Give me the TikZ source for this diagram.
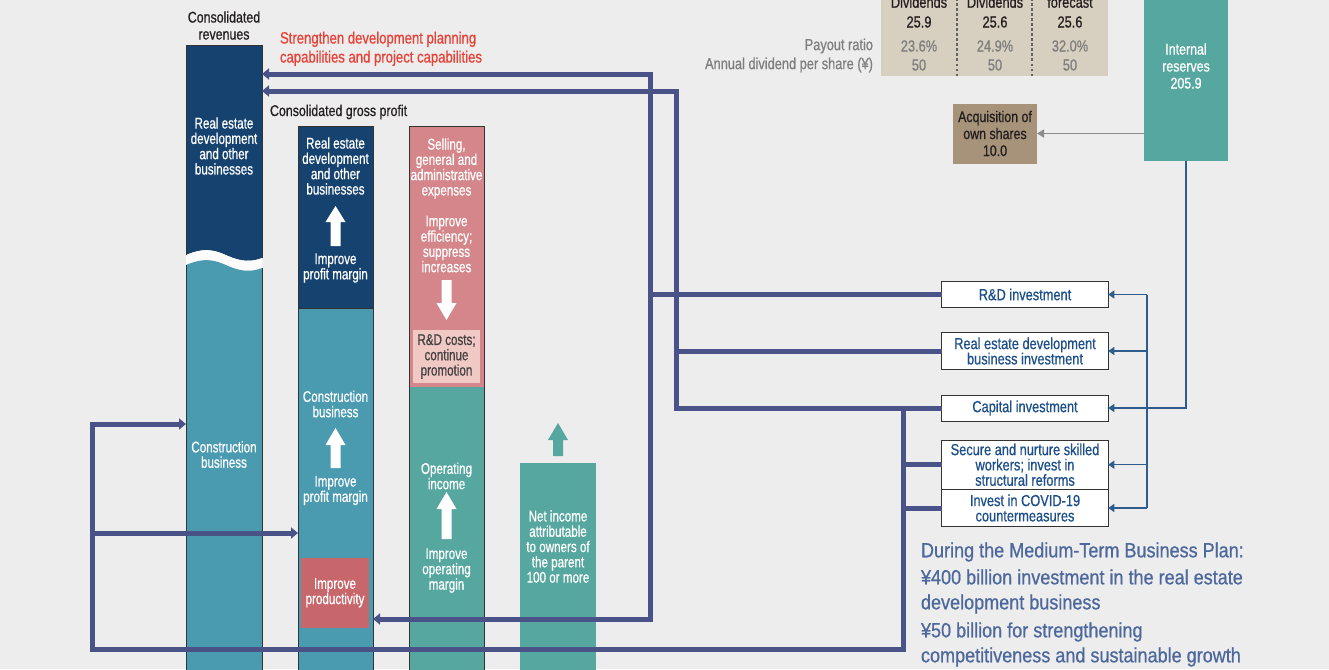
\documentclass[tikz,border=0pt]{standalone}
\usepackage{fontspec}
\setmainfont{Liberation Sans}[FakeStretch=0.8, FakeBold=0.7]
\newfontfamily\widefont{Liberation Sans}[FakeStretch=0.88, FakeBold=0.7]
\newfontfamily\colfont{Liberation Sans}[FakeStretch=0.75, FakeBold=0.7]
\usetikzlibrary{arrows.meta}
\definecolor{bgc}{HTML}{ECEDEC}
\definecolor{darkblue}{HTML}{15426F}
\definecolor{conblue}{HTML}{4A9AB0}
\definecolor{pinkc}{HTML}{D5868A}
\definecolor{lightpink}{HTML}{F1C9C4}
\definecolor{redbox}{HTML}{C8676B}
\definecolor{tealc}{HTML}{56A79F}
\definecolor{flowc}{HTML}{4A5387}
\definecolor{thinc}{HTML}{2C5D8E}
\definecolor{beige}{HTML}{D7CFC0}
\definecolor{brownc}{HTML}{A69379}
\definecolor{boxtext}{HTML}{1D4F8A}
\definecolor{bottomtext}{HTML}{4D689C}
\definecolor{redtext}{HTML}{E94138}
\definecolor{graytext}{HTML}{7F7F7F}
\definecolor{darktext}{HTML}{231F20}
\definecolor{edgec}{HTML}{333333}
\newcommand\whiteup[4]{\fill[white] (#1-5,#4) -- (#1-5,#3) -- (#1-10,#3) -- (#1,#2) -- (#1+10,#3) -- (#1+5,#3) -- (#1+5,#4) -- cycle;}
\newcommand\whitedown[4]{\fill[white] (#1-5,#2) -- (#1-5,#3) -- (#1-10,#3) -- (#1,#4) -- (#1+10,#3) -- (#1+5,#3) -- (#1+5,#2) -- cycle;}
\begin{document}
\begin{tikzpicture}[x=1pt,y=-1pt,
  every node/.style={inner sep=0pt, outer sep=0pt},
  ctext/.style={font=\colfont\fontsize{15.5}{15.3}\selectfont, align=center, text=white},
  ttext/.style={font=\fontsize{15.5}{17}\selectfont, align=center},
  edge/.style={draw=edgec, line width=1pt},
  flow/.style={draw=flowc, line width=5pt, line join=miter},
  ftip/.style={-{Triangle[width=11pt,length=7pt]}},
  fboth/.style={{Triangle[width=11pt,length=7pt]}-{Triangle[width=11pt,length=7pt]}},
  thinline/.style={draw=thinc, line width=1.2pt},
  ttip/.style={-{Triangle[width=8pt,length=6pt]}},
  invbox/.style={draw=edgec, fill=white, line width=0.9pt, minimum width=166.5pt,
    text=boxtext, font=\fontsize{16}{15.3}\selectfont, align=center},
  tabtext/.style={font=\fontsize{16}{17}\selectfont},
  bottom/.style={anchor=west, align=left, text=bottomtext, font=\widefont\fontsize{20.5}{25}\selectfont}
]
\useasboundingbox (0,0) rectangle (1329,669);
\fill[bgc] (0,0) rectangle (1329,669);
\clip (0,0) rectangle (1329,669);

% ---------- Column 1: consolidated revenues
\fill[darkblue] (186,46) -- (262,46) -- (262,258) .. controls (252,262) and (242,262) .. (228,256) .. controls (215,250) and (205,247) .. (186,255) -- cycle;
\fill[white!85!bgc] (186,255) .. controls (205,247) and (215,250) .. (228,256) .. controls (242,262) and (252,262) .. (262,258) -- (262,268) .. controls (252,272) and (242,272) .. (228,266) .. controls (215,260) and (205,257) .. (186,265) -- cycle;
\fill[conblue] (186,680) -- (186,265) .. controls (205,257) and (215,260) .. (228,266) .. controls (242,272) and (252,272) .. (262,268) -- (262,680) -- cycle;
\draw[edge] (186,255) -- (186,46) -- (262,46) -- (262,258);
\draw[edge] (186,265) -- (186,680);
\draw[edge] (262,268) -- (262,680);
\node[minimum width=76pt, minimum height=640pt, anchor=north west] (rev) at (186,46) {};
\node[ttext, text=darktext] (revTitle) at (224,25.5) {Consolidated\\revenues};
\node[ctext] (revRE) at (224,146) {Real estate\\development\\and other\\businesses};
\node[ctext] (revCon) at (224,454.5) {Construction\\business};

% ---------- Column 2: consolidated gross profit
\fill[darkblue] (298,126) rectangle (373,308);
\fill[conblue] (298,308) rectangle (373,680);
\draw[edge] (298,680) -- (298,126) -- (373,126) -- (373,680);
\draw[edge] (298,308) -- (373,308);
\node[minimum width=75pt, minimum height=560pt, anchor=north west] (gp) at (298,126) {};
\node[anchor=west, font=\fontsize{15.5}{17}\selectfont, text=darktext] (gpTitle) at (270,112) {Consolidated gross profit};
\node[ctext] (gpRE) at (335.5,166) {Real estate\\development\\and other\\businesses};
\whiteup{335.5}{206}{222}{246}
\node[ctext] (gpImp1) at (335.5,268) {Improve\\profit margin};
\node[ctext] (gpCon) at (335.5,404) {Construction\\business};
\whiteup{335.5}{428}{445}{468}
\node[ctext] (gpImp2) at (335.5,490.5) {Improve\\profit margin};
\node[ctext, fill=redbox, minimum width=68pt, minimum height=70pt] (prod) at (335,592.7) {Improve\\productivity};

% ---------- Column 3: SG&A / operating income
\fill[pinkc] (409,126) rectangle (484,387);
\fill[tealc] (409,387) rectangle (484,680);
\draw[edge] (409,680) -- (409,126) -- (484,126) -- (484,680);
\node[minimum width=75pt, minimum height=560pt, anchor=north west] (sga) at (409,126) {};
\node[ctext] (sgaT) at (446.5,168.5) {Selling,\\general and\\administrative\\expenses};
\node[ctext] (sgaImp) at (446.5,244) {Improve\\efficiency;\\suppress\\increases};
\whitedown{446.5}{280}{303}{320}
\node[fill=lightpink, minimum width=67pt, minimum height=53pt, align=center, text=darktext!85!white, font=\colfont\fontsize{15.5}{15.3}\selectfont] (rdc) at (446.5,356.5) {R\&D costs;\\continue\\promotion};
\node[ctext] (opT) at (446.5,476) {Operating\\income};
\whiteup{446.5}{492}{509}{539}
\node[ctext] (opImp) at (446.5,570.5) {Improve\\operating\\margin};

% ---------- Column 4: net income
\node[fill=tealc, minimum width=76pt, minimum height=220pt, anchor=north] (ni) at (558,463) {};
\fill[tealc] (553,456) -- (553,440) -- (548,440) -- (558,423) -- (568,440) -- (563,440) -- (563,456) -- cycle;
\node[ctext] (niT) at (558,546.5) {Net income\\attributable\\to owners of\\the parent\\100 or more};

% ---------- Red heading
\node[anchor=west, align=left, text=redtext, font=\fontsize{16.4}{19}\selectfont] (redT) at (280,48.8) {Strengthen development planning\\capabilities and project capabilities};

% ---------- Dividend table
\node[fill=beige, minimum width=227pt, minimum height=90pt, anchor=south west] (divtab) at (881,76) {};
\draw[darktext!70!white, line width=1.3pt, dash pattern=on 2.5pt off 2.5pt] (divtab.south -| 957,0) -- (divtab.north -| 957,0);
\draw[darktext!70!white, line width=1.3pt, dash pattern=on 2.5pt off 2.5pt] (divtab.south -| 1032,0) -- (divtab.north -| 1032,0);
\node[tabtext, text=darktext] (d1a) at (919,2) {Dividends};
\node[tabtext, text=darktext] (d2a) at (995,2) {Dividends};
\node[tabtext, text=darktext] (d3a) at (1070,2) {forecast};
\node[tabtext, text=darktext] (d1b) at (919,22) {25.9};
\node[tabtext, text=darktext] (d2b) at (995,22) {25.6};
\node[tabtext, text=darktext] (d3b) at (1070,22) {25.6};
\node[tabtext, text=graytext] (d1c) at (919,46) {23.6\%};
\node[tabtext, text=graytext] (d2c) at (995,46) {24.9\%};
\node[tabtext, text=graytext] (d3c) at (1070,46) {32.0\%};
\node[tabtext, text=graytext] (d1d) at (919,65) {50};
\node[tabtext, text=graytext] (d2d) at (995,65) {50};
\node[tabtext, text=graytext] (d3d) at (1070,65) {50};
\node[tabtext, text=graytext, anchor=east] (lab1) at (873,46) {Payout ratio};
\node[tabtext, text=graytext, anchor=east] (lab2) at (873,65) {Annual dividend per share (¥)};

% ---------- Internal reserves and share acquisition
\node[fill=tealc, minimum width=84pt, minimum height=180pt, anchor=south] (ir) at (1186,160.7) {};
\node[ttext, text=white] (irT) at (1186,66) {Internal\\reserves\\205.9};
\node[ttext, fill=brownc, minimum width=84pt, minimum height=60pt, text=darktext] (acq) at (995,133.5) {Acquisition of\\own shares\\10.0};
\draw[draw=graytext!90!white, line width=1.5pt, -{Triangle[width=8pt,length=7pt]}] (ir.west |- acq.east) -- (acq.east);

% ---------- Investment boxes
\node[invbox, minimum height=25.5pt] (rd) at (1025,294.5) {R\&D investment};
\node[invbox, minimum height=37.7pt] (re) at (1025,351) {Real estate development\\business investment};
\node[invbox, minimum height=26pt] (cap) at (1025,408) {Capital investment};
\node[invbox, minimum height=49.3pt] (sec) at (1025,464.7) {Secure and nurture skilled\\workers; invest in\\structural reforms};
\node[invbox, minimum height=37.3pt] (cov) at (1025,508) {Invest in COVID-19\\countermeasures};

% ---------- Thin arrows from internal reserves
\coordinate (t1) at (1186,408);
\coordinate (xv) at (1147,0);
\draw[thinline, ttip] (ir.south) -- (t1) -- (cap.east);
\draw[thinline] (rd.east -| xv) -- (cov.east -| xv);
\draw[thinline, ttip] (rd.east -| xv) -- (rd.east);
\draw[thinline, ttip] (re.east -| xv) -- (re.east);
\draw[thinline, ttip] (sec.east -| xv) -- (sec.east);
\draw[thinline, ttip] (cov.east -| xv) -- (cov.east);

% ---------- Thick flow connectors
\coordinate (a1) at (650,74);
\coordinate (a2) at (650,619);
\draw[flow, fboth] (rev.east |- a1) -- (a1) -- (a2) -- (gp.east |- a2);
\draw[flow] (rd.west) -- ([xshift=-2.5pt]rd.west -| a1);

\coordinate (b1) at (676,91);
\coordinate (b2) at (676,408);
\draw[flow, {Triangle[width=11pt,length=7pt]}-] (rev.east |- b1) -- (b1) -- (b2) -- (cap.west);
\draw[flow] (re.west) -- ([xshift=-2.5pt]re.west -| b1);

\coordinate (c1) at (903,405.5);
\coordinate (c2) at (903,649);
\coordinate (c3) at (92,649);
\coordinate (c4) at (92,424);
\coordinate (c5) at (92,533);
\draw[flow, ftip] (c1) -- (c2) -- (c3) -- (c4) -- (rev.west |- c4);
\draw[flow, ftip] (c5) -- (gp.west |- c5);
\draw[flow] (sec.west) -- (sec.west -| c1);
\draw[flow] (cov.west) -- (cov.west -| c1);

% ---------- Bottom note
\node[bottom] (n1) at (921,552) {During the Medium-Term Business Plan:};
\node[bottom] (n2) at (921,591.5) {¥400 billion investment in the real estate\\development business};
\node[bottom] (n3) at (921,644.5) {¥50 billion for strengthening\\competitiveness and sustainable growth};
\end{tikzpicture}
\end{document}
